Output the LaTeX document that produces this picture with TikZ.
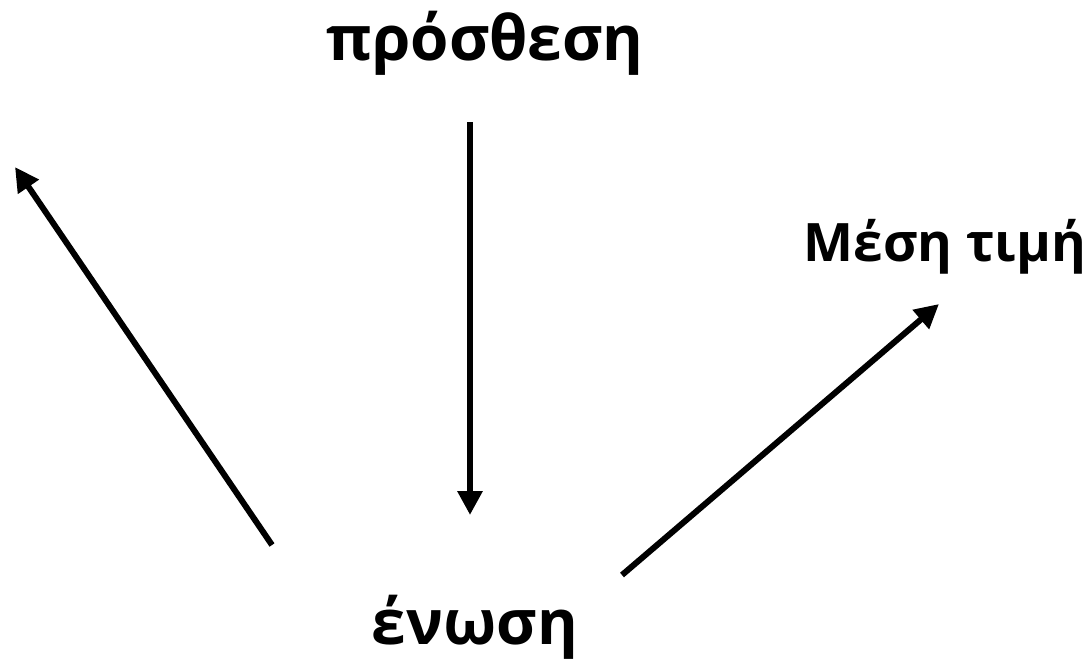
\documentclass[tikz,border=0pt]{standalone}
\usepackage{fontspec}
\setmainfont{Open Sans}
\usetikzlibrary{arrows.meta}
\begin{document}
\begin{tikzpicture}[x=1pt,y=-1pt,
  lbl/.style={font=\bfseries\fontsize{62}{70}\selectfont, inner sep=0pt, anchor=base},
  lblsmall/.style={font=\bfseries\fontsize{53}{62}\selectfont, inner sep=0pt, anchor=base},
  arr/.style={line width=6pt, -{Triangle[length=24pt,width=24pt]}}]
\useasboundingbox (0,0) rectangle (1092,667);
\node[lbl] (prosthesi) at (485,60) {πρόσθεση};
\node[lblsmall] (mesi) at (945,261) {Μέση τιμή};
\node[lbl] (enosi) at (475,644) {ένωση};
\coordinate (vtop) at (470,122);
\coordinate (vbot) at (470,515);
\coordinate (ltail) at (272,545);
\coordinate (ltip) at (15,167);
\coordinate (rtail) at (622,575);
\coordinate (rtip) at (939,304);
\draw[arr] (vtop) -- (vbot);
\draw[arr] (ltail) -- (ltip);
\draw[arr] (rtail) -- (rtip);
\end{tikzpicture}
\end{document}
